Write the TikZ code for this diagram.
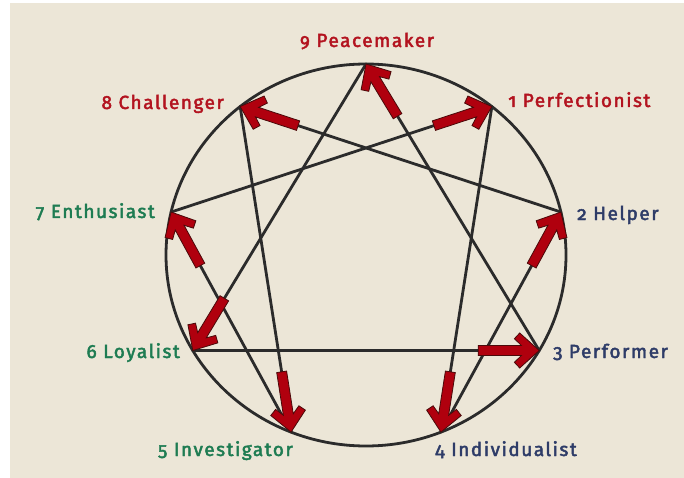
\documentclass[tikz,border=0pt]{standalone}
\usepackage{fontspec}
\setmainfont{Fira Sans}[Numbers=OldStyle, LetterSpace=8, FakeBold=2.4]
\usetikzlibrary{calc}
\definecolor{bg}{HTML}{ECE6D7}
\definecolor{ered}{HTML}{B3131F}
\definecolor{enavy}{HTML}{2E3C68}
\definecolor{egreen}{HTML}{1E7C52}
\definecolor{eline}{HTML}{2B2B2B}
\definecolor{aout}{HTML}{4A0A0A}
\definecolor{afill}{HTML}{B0000E}
\tikzset{
  redarrow/.pic={
    \filldraw[fill=afill, draw=aout, line width=0.8pt, line join=miter]
      (0,0) -- (-19.5,17.5) -- (-24.8,11.8) -- (-17.8,5) -- (-61,5)
      -- (-61,-5) -- (-17.8,-5) -- (-24.8,-11.8) -- (-19.5,-17.5) -- cycle;
  }
}
\newcommand\enarr[2]{\path let \p1=($(#2)-(#1)$), \n1={atan2(\y1,\x1)} in (#2) pic[rotate=\n1]{redarrow};}
\begin{document}
\begin{tikzpicture}[x=1pt,y=-1pt,
  edge/.style={draw=eline, line width=2.8pt, line join=round},
  lbl/.style={font=\fontsize{19}{22}\selectfont, inner sep=0pt}]
\useasboundingbox (0,0) rectangle (684,478);
\fill[bg] (10,3) rectangle (684,478);
\coordinate (c) at (366,255);
\draw[edge] (c) ellipse [x radius=200, y radius=191];
\coordinate (p9) at ({366+200*cos(90)},{255-191*sin(90)});
\coordinate (p1) at ({366+200*cos(51)},{255-191*sin(51)});
\coordinate (p2) at ({366+200*cos(13)},{255-191*sin(13)});
\coordinate (p3) at ({366+200*cos(-30)},{255-191*sin(-30)});
\coordinate (p4) at ({366+200*cos(-68)},{255-191*sin(-68)});
\coordinate (p5) at ({366+200*cos(248)},{255-191*sin(248)});
\coordinate (p6) at ({366+200*cos(210)},{255-191*sin(210)});
\coordinate (p7) at ({366+200*cos(167)},{255-191*sin(167)});
\coordinate (p8) at ({366+200*cos(129)},{255-191*sin(129)});
\draw[edge] (p1) -- (p4) -- (p2) -- (p8) -- (p5) -- (p7) -- cycle;
\draw[edge] (p9) -- (p3) -- (p6) -- cycle;
\enarr{p9}{p6}
\enarr{p6}{p3}
\enarr{p3}{p9}
\enarr{p1}{p4}
\enarr{p4}{p2}
\enarr{p2}{p8}
\enarr{p8}{p5}
\enarr{p5}{p7}
\enarr{p7}{p1}
\node[lbl, text=ered, anchor=base] (l9) at (367,47) {9 Peacemaker};
\node[lbl, text=ered, anchor=base east] (l8) at (224,109) {8 Challenger};
\node[lbl, text=ered, anchor=base west] (l1) at (508,107) {1 Perfectionist};
\node[lbl, text=enavy, anchor=base west] (l2) at (577,220) {2 Helper};
\node[lbl, text=enavy, anchor=base west] (l3) at (553,358) {3 Performer};
\node[lbl, text=enavy, anchor=base west] (l4) at (435,456) {4 Individualist};
\node[lbl, text=egreen, anchor=base east] (l5) at (293,456) {5 Investigator};
\node[lbl, text=egreen, anchor=base east] (l6) at (180,358) {6 Loyalist};
\node[lbl, text=egreen, anchor=base east] (l7) at (155,218) {7 Enthusiast};
\end{tikzpicture}
\end{document}
